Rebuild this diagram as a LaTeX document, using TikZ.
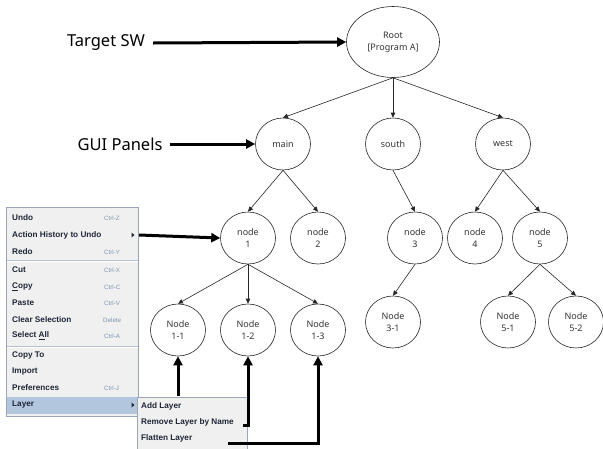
\documentclass[tikz,border=0pt]{standalone}
\usepackage{fontspec}
\setmainfont{Noto Sans}
\newfontfamily\menufont{Liberation Sans}
\usetikzlibrary{arrows.meta,shapes.geometric}
\definecolor{menubg}{HTML}{F0F0F0}
\definecolor{menuborder}{HTML}{9AA6B8}
\definecolor{menusep}{HTML}{B4C0D0}
\definecolor{menuhl}{HTML}{B2C6DE}
\definecolor{menutext}{HTML}{1E2636}
\definecolor{shorttext}{HTML}{8492AE}
\definecolor{nodetext}{HTML}{333333}
\begin{document}
\begin{tikzpicture}[x=1pt,y=-1pt,
  gnode/.style={draw=black!85, ellipse, minimum width=55pt, minimum height=52pt, inner sep=0pt,
    align=center, text=nodetext, font=\fontsize{9}{12}\selectfont, line width=0.6pt},
  gedge/.style={draw=black!85, line width=0.6pt, -{Triangle[length=5pt,width=4.5pt]}},
  bigarrow/.style={draw=black, line width=3pt, -{Triangle[length=9pt,width=9pt]}},
  label/.style={font=\fontsize{16.5}{18}\selectfont, text=black, inner sep=1pt},
  mitem/.style={anchor=west, inner sep=0pt, font=\menufont\bfseries\fontsize{8.2}{9}\selectfont, text=menutext},
  mkey/.style={anchor=west, inner sep=0pt, font=\menufont\fontsize{6.2}{7}\selectfont, text=shorttext}
]
\useasboundingbox (0,0) rectangle (603,448);

% ---------- graph ----------
\node[gnode, minimum width=93pt, minimum height=71pt] (root) at (393,42) {Root\\{[Program A]}};
\node[gnode] (main) at (283,144) {main};
\node[gnode] (south) at (393,144) {south};
\node[gnode] (west) at (503,144) {west};
\node[gnode] (n1) at (248,238) {node\\1};
\node[gnode] (n2) at (318,238) {node\\2};
\node[gnode] (n3) at (415,238) {node\\3};
\node[gnode] (n4) at (475,238) {node\\4};
\node[gnode] (n5) at (540,238) {node\\5};
\node[gnode] (n11) at (178,330) {Node\\1-1};
\node[gnode] (n12) at (248,330) {Node\\1-2};
\node[gnode] (n13) at (318,330) {Node\\1-3};
\node[gnode] (n31) at (393,322) {Node\\3-1};
\node[gnode] (n51) at (508,322) {Node\\5-1};
\node[gnode] (n52) at (576,322) {Node\\5-2};

\draw[gedge] (root.south) -- (main.north);
\draw[gedge] (root.south) -- (south.north);
\draw[gedge] (root.south) -- (west.north);
\draw[gedge] (main.south) -- (n1.north);
\draw[gedge] (main.south) -- (n2.north);
\draw[gedge] (south.south) -- (n3.north);
\draw[gedge] (west.south) -- (n4.north);
\draw[gedge] (west.south) -- (n5.north);
\draw[gedge] (n1.south) -- (n11.north);
\draw[gedge] (n1.south) -- (n12.north);
\draw[gedge] (n1.south) -- (n13.north);
\draw[gedge] (n3.south) -- (n31.north);
\draw[gedge] (n5.south) -- (n51.north);
\draw[gedge] (n5.south) -- (n52.north);

% ---------- labels ----------
\node[label] (tsw) at (106,43) {Target SW};
\node[label] (gui) at (120,144) {GUI Panels};
\draw[bigarrow] ([xshift=7pt]tsw.east) -- (root.west);
\draw[bigarrow] ([xshift=6pt]gui.east) -- (main.west);

% ---------- context menu ----------
\path[fill=menubg, draw=menuborder, line width=0.7pt] (6,207) rectangle (138,416);
\fill[menuhl] (7,397) rectangle (137.5,414);
\draw[menusep, line width=0.8pt] (7,260) -- (137.5,260);
\draw[white, line width=0.6pt] (7,261) -- (137.5,261);
\draw[menusep, line width=0.8pt] (7,346) -- (137.5,346);
\draw[white, line width=0.6pt] (7,347) -- (137.5,347);

\node[mitem] (undo) at (12,218) {Undo};
\node[mkey]  (kz)   at (104,218) {Ctrl-Z};
\node[mitem] (ahu)  at (12,235) {Action History to Undo};
\node[mitem] (redo) at (12,252) {Redo};
\node[mkey]  (ky)   at (104,252) {Ctrl-Y};
\node[mitem] (cut)  at (12,270) {Cut};
\node[mkey]  (kx)   at (104,270) {Ctrl-X};
\node[mitem] (copy) at (12,287) {\underline{C}opy};
\node[mkey]  (kc)   at (104,287) {Ctrl-C};
\node[mitem] (paste) at (12,303) {Paste};
\node[mkey]  (kv)   at (104,303) {Ctrl-V};
\node[mitem] (clear) at (12,320) {Clear Selection};
\node[mkey]  (kdel) at (103,320) {Delete};
\node[mitem] (sall) at (12,336) {Select \underline{A}ll};
\node[mkey]  (ka)   at (104,336) {Ctrl-A};
\node[mitem] (cto)  at (12,355) {Copy To};
\node[mitem] (imp)  at (12,372) {Import};
\node[mitem] (pref) at (12,388) {Preferences};
\node[mkey]  (kj)   at (104,388) {Ctrl-J};
\node[mitem] (layer) at (12,405) {Layer};
\fill[menutext] (131.5,232.5) -- (134.5,235) -- (131.5,237.5) -- cycle;
\fill[menutext] (131.5,402.5) -- (134.5,405) -- (131.5,407.5) -- cycle;

% ---------- submenu ----------
\path[fill=menubg, draw=menuborder, line width=0.7pt] (137.5,397) rectangle (247,452);
\node[mitem] (addl) at (141,406) {Add Layer};
\node[mitem] (reml) at (141,422) {Remove Layer by Name};
\node[mitem] (flat) at (141,438) {Flatten Layer};

% ---------- menu arrows ----------
\coordinate (ahuout) at (139,235);
\coordinate (addtop) at (178,396);
\coordinate (remend) at (243,425);
\coordinate (flatend) at (228,443);
\draw[bigarrow] (ahuout) -- (n1.west);
\draw[bigarrow] (addtop) -- (n11.south);
\draw[bigarrow] (remend) -| (n12.south);
\draw[bigarrow] (flatend) -| (n13.south);
\end{tikzpicture}
\end{document}
